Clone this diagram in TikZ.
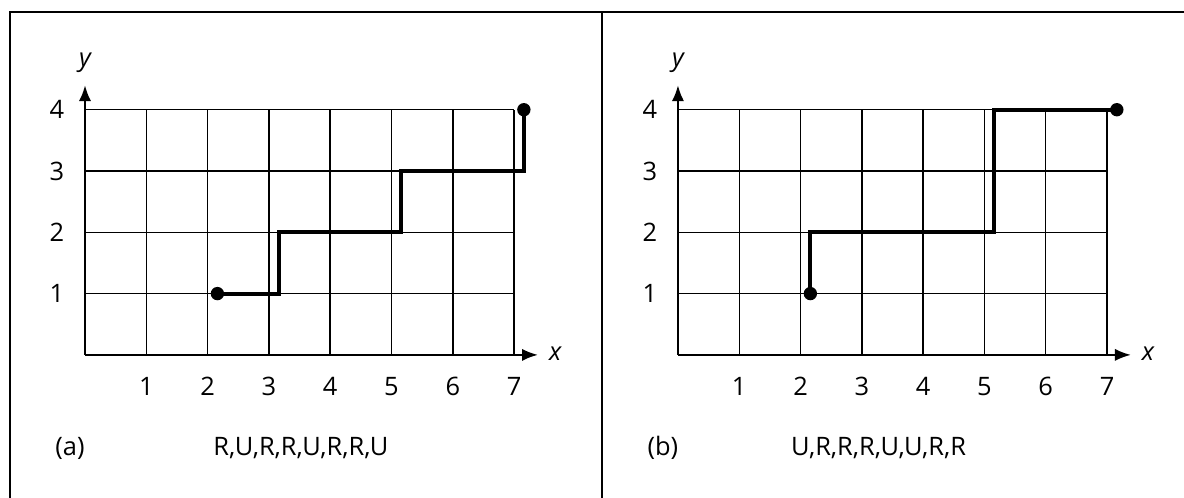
\documentclass[tikz,border=0pt]{standalone}
\usepackage{fontspec}
\setsansfont{Open Sans}
\usetikzlibrary{arrows.meta,positioning}

\begin{document}
\begin{tikzpicture}[
    font=\sffamily\fontsize{11.8}{14}\selectfont,
    gridline/.style={black, line width=0.7pt},
    axis/.style={-{Latex[length=2.6mm,width=2mm]}, line width=1pt},
    route/.style={line width=1.9pt, line join=miter},
    dot/.style={circle, fill=black, inner sep=0pt, minimum size=6.2pt},
    frameline/.style={line width=0.9pt}
]
\useasboundingbox (-1.387,-2.333) rectangle (17.93,5.79);

% frame
\draw[frameline] (-1.223,-2.333) -- (-1.223,5.595) -- (17.93,5.595);
\draw[frameline] (8.434,5.595) -- (8.434,-2.333);

% panel (a)
\begin{scope}
\foreach \i in {1,...,7} \draw[gridline] (\i,0) -- (\i,4);
\foreach \j in {1,...,4} \draw[gridline] (0,\j) -- (7,\j);
\coordinate (oa) at (0,0);
\node (xa) at (7.67,0.02) {\itshape x};
\node (ya) at (0,4.76) {\itshape y};
\draw[axis] (oa) -- (7.39,0);
\draw[axis] (oa) -- (0,4.4);
\foreach \i in {1,...,7} \node (xla\i) at (\i,-0.52) {\i};
\foreach \j in {1,...,4} \node (yla\j) at (-0.46,\j) {\j};
\node (capa) at (-0.245,-1.52) {(a)};
\node[anchor=west] (seqa) at (1.97,-1.52) {R,U,R,R,U,R,R,U};
\node[dot] (starta) at (2.16,1) {};
\node[dot] (enda) at (7.16,4) {};
\draw[route] (starta.center) -- (3.16,1) -- (3.16,2) -- (5.16,2)
    -- (5.16,3) -- (7.16,3) -- (enda.center);
\end{scope}

% panel (b)
\begin{scope}[xshift=9.674cm]
\foreach \i in {1,...,7} \draw[gridline] (\i,0) -- (\i,4);
\foreach \j in {1,...,4} \draw[gridline] (0,\j) -- (7,\j);
\coordinate (ob) at (0,0);
\node (xb) at (7.67,0.02) {\itshape x};
\node (yb) at (0,4.76) {\itshape y};
\draw[axis] (ob) -- (7.39,0);
\draw[axis] (ob) -- (0,4.4);
\foreach \i in {1,...,7} \node (xlb\i) at (\i,-0.52) {\i};
\foreach \j in {1,...,4} \node (ylb\j) at (-0.46,\j) {\j};
\node (capb) at (-0.245,-1.52) {(b)};
\node[anchor=west] (seqb) at (1.72,-1.52) {U,R,R,R,U,U,R,R};
\node[dot] (startb) at (2.16,1) {};
\node[dot] (endb) at (7.16,4) {};
\draw[route] (startb.center) -- (2.16,2) -- (5.16,2) -- (5.16,4)
    -- (endb.center);
\end{scope}
\end{tikzpicture}
\end{document}
